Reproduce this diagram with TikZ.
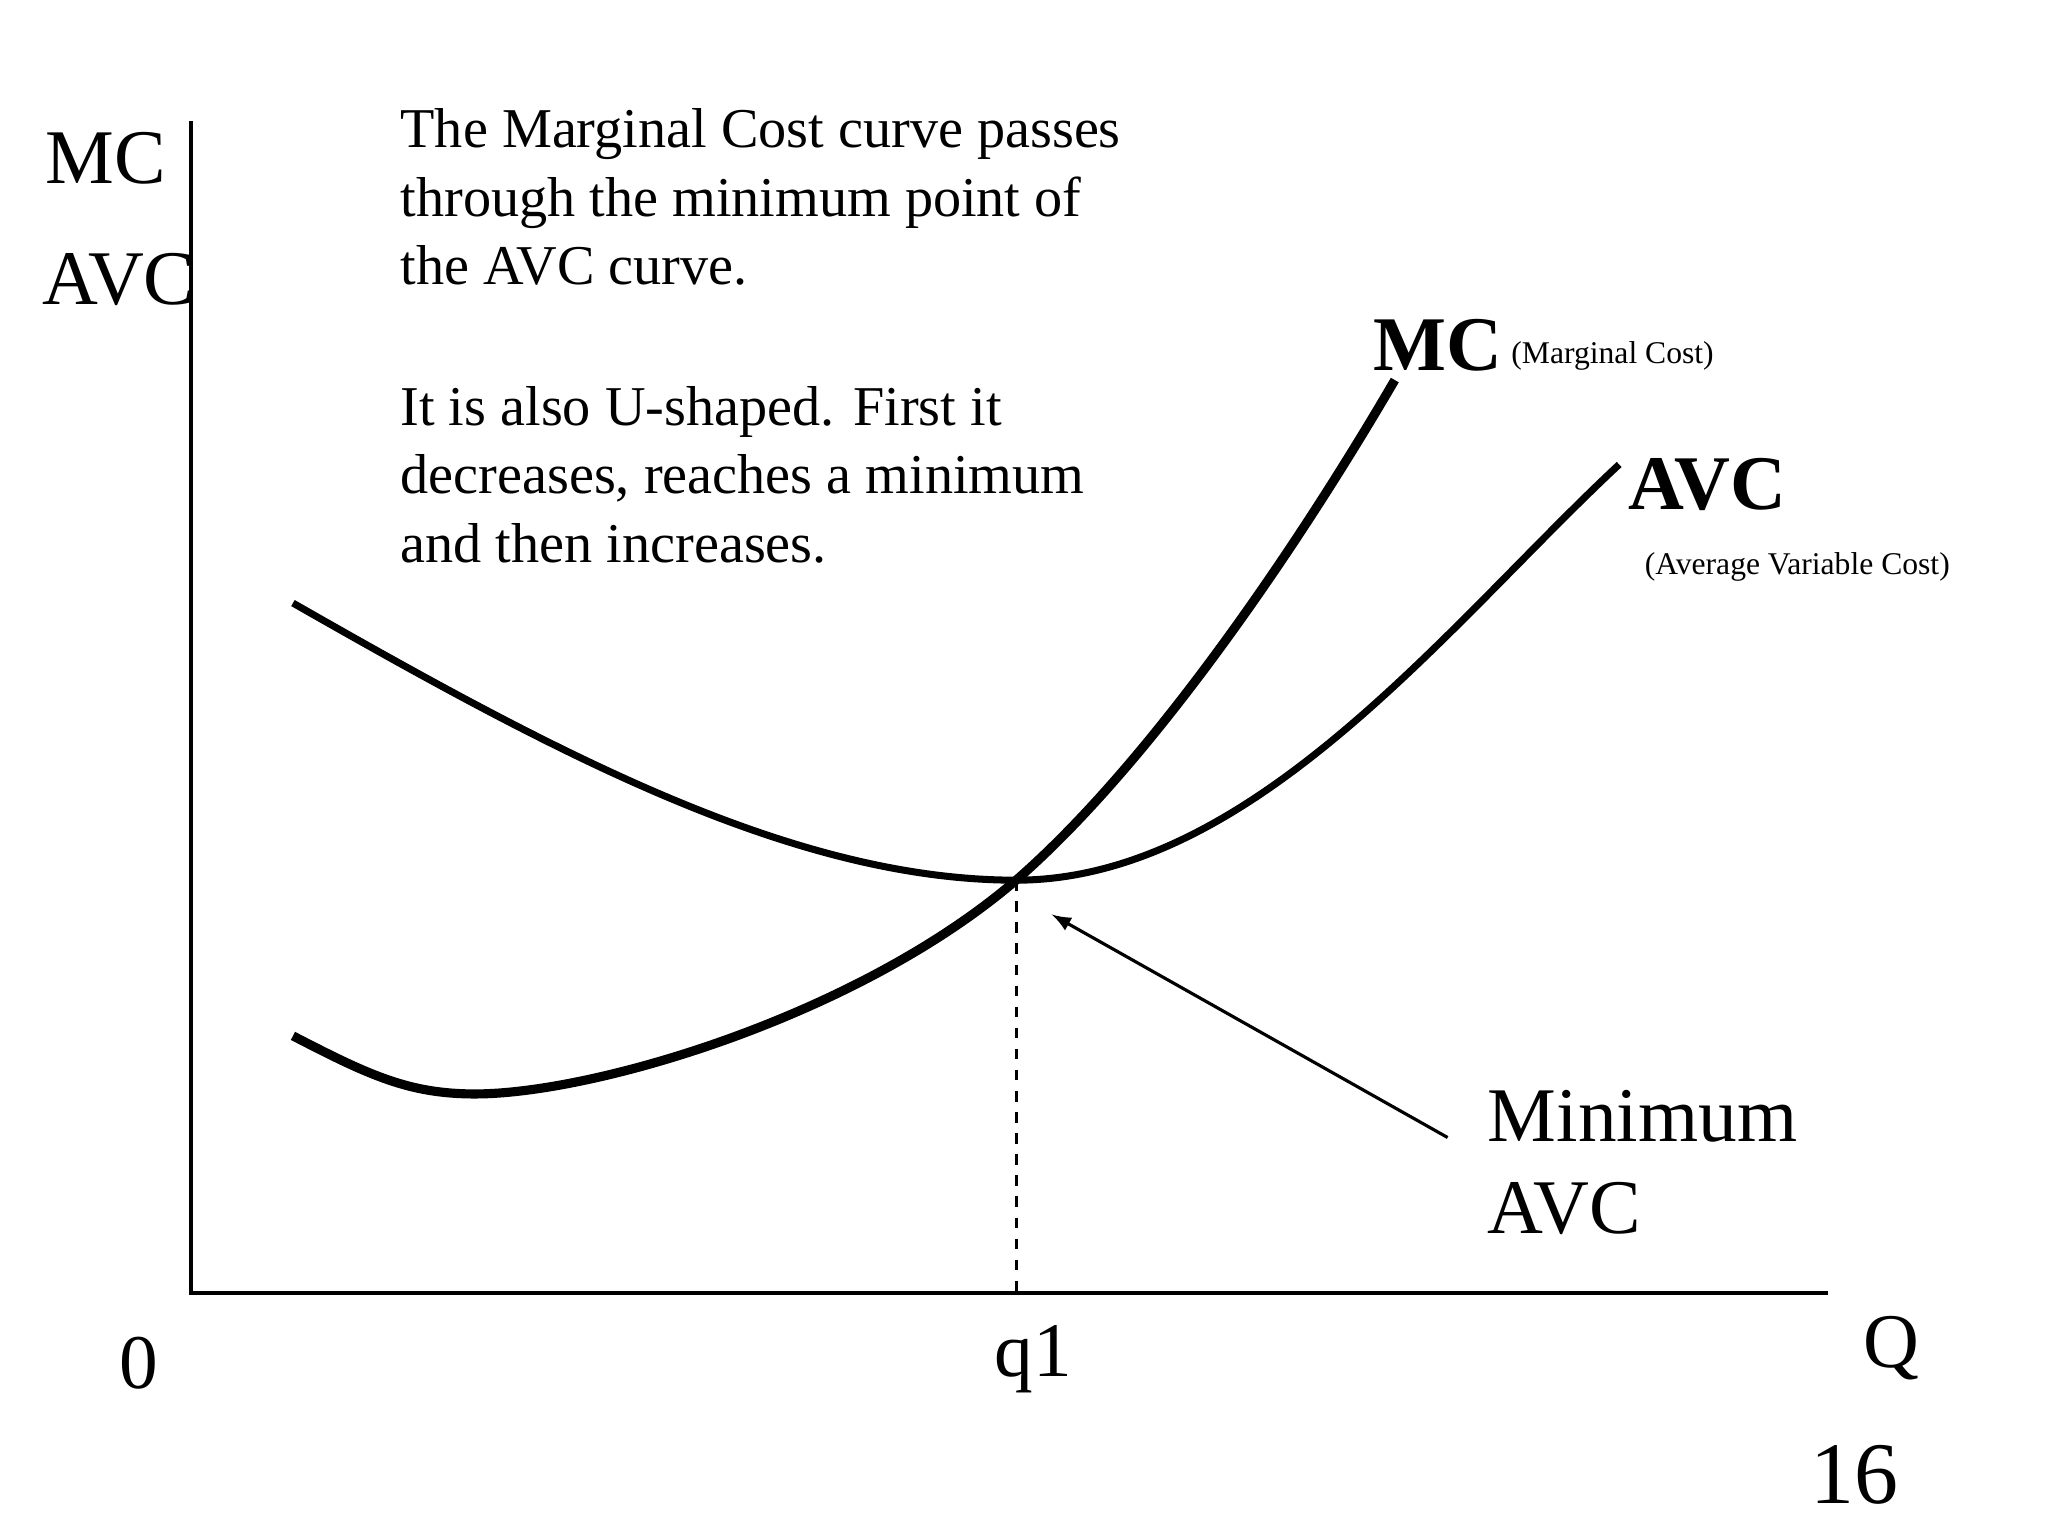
\documentclass[tikz,border=0pt]{standalone}
\usepackage{fontspec}
\setmainfont{Liberation Serif}
\begin{document}
\begin{tikzpicture}[x=0.013196cm,y=-0.013196cm,
  txt/.style={inner sep=0pt,font=\fontsize{16}{19.5}\selectfont},
  lbl/.style={inner sep=0pt,font=\fontsize{22}{26}\selectfont}]
\useasboundingbox (0,0) rectangle (1552,1164);
\coordinate (o) at (145,980);
\coordinate (ytop) at (145,92);
\coordinate (xend) at (1385,980);
\draw[line width=1.2pt] (ytop) -- (o) -- (xend);
\coordinate (m) at (770,667);
\coordinate (mb) at (770,980);
\draw[dashed,line width=0.8pt] (m) -- (mb);
\draw[line width=2.6pt] (222,785) .. controls (280,815) and (310,829) .. (360,829)
  .. controls (450,829) and (650,770) .. (m) .. controls (870,580) and (980,420) .. (1057,288);
\draw[line width=2pt] (222,457) .. controls (420,570) and (600,667) .. (m)
  .. controls (950,667) and (1100,470) .. (1227,352);
\node[lbl] (ymc) at (80,120) {MC};
\node[lbl] (yavc) at (90,212) {AVC};
\node[txt,anchor=north west,align=left] (t1) at (303,82) {The Marginal Cost curve passes\\through the minimum point of\\the AVC curve.};
\node[txt,anchor=north west,align=left] (t2) at (303,292) {It is also U-shaped. First it\\decreases, reaches a minimum\\and then increases.};
\node[inner sep=0pt,font=\bfseries\fontsize{22}{26}\selectfont] (mcl) at (1090,262) {MC};
\node[inner sep=0pt,font=\fontsize{9}{11}\selectfont] (mcs) at (1222,270) {(Marginal Cost)};
\node[inner sep=0pt,font=\bfseries\fontsize{22}{26}\selectfont] (avcl) at (1294,367) {AVC};
\node[inner sep=0pt,font=\fontsize{9}{11}\selectfont] (avcs) at (1362,430) {(Average Variable Cost)};
\node[lbl,anchor=west,align=left] (min) at (1127,881) {Minimum\\AVC};
\coordinate (as) at (1097,862);
\coordinate (ae) at (797,693);
\draw[-latex,line width=0.9pt] (as) -- (ae);
\node[lbl] (zero) at (105,1033) {0};
\node[lbl] (q1) at (783,1030) {q1};
\node[lbl] (qq) at (1433,1022) {Q};
\node[inner sep=0pt,font=\fontsize{25}{30}\selectfont] (pg) at (1405,1118) {16};
\end{tikzpicture}
\end{document}
